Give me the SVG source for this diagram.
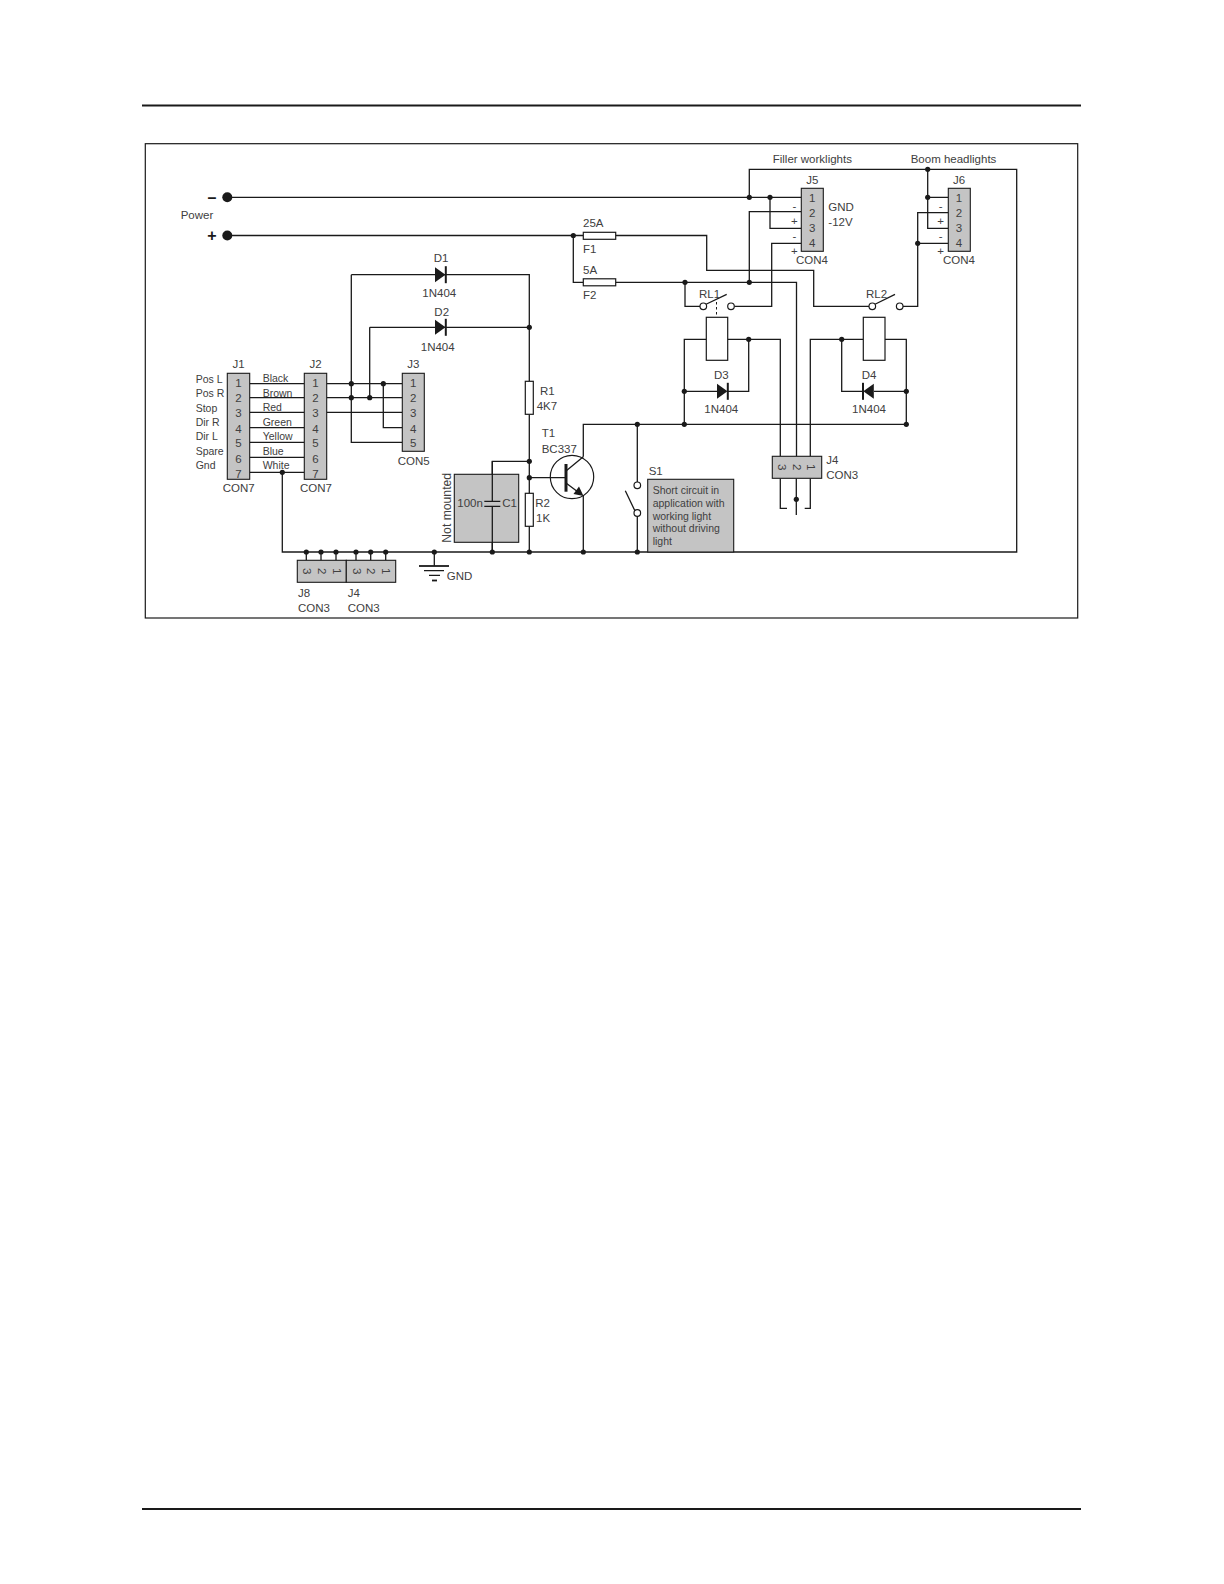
<svg xmlns="http://www.w3.org/2000/svg" width="1224" height="1584" viewBox="0 0 1224 1584">
<style>
text{font-family:"Liberation Sans",Arial,sans-serif;font-size:11.5px;fill:#404040}
.m{text-anchor:middle}
.s{font-size:10.5px}
.b{font-weight:bold;font-size:16px;fill:#1a1a1a}
.w{fill:none;stroke:#1a1a1a;stroke-width:1.3}
.g{fill:#c4c4c4;stroke:#1a1a1a;stroke-width:1.1}
.o{fill:#fff;stroke:#1a1a1a;stroke-width:1.2}
.d{fill:#1a1a1a}
</style>
<defs>
<circle id="j" r="2.6" class="d"/>
<g id="diode"><path d="M-5.5 -7.5L5 0L-5.5 7.5Z" class="d"/><path d="M5.3 -8.5V8.5" fill="none" stroke="#1a1a1a" stroke-width="2"/></g>
</defs>
<rect width="1224" height="1584" fill="#fff"/>
<path d="M142 105.500H1081M142 1509H1081" stroke="#1a1a1a" stroke-width="1.800" fill="none"/>
<rect x="145.300" y="143.700" width="932.400" height="474.300" fill="none" stroke="#1a1a1a" stroke-width="1.200"/>
<g id="connectors">
<path class="w" d="M227 197.300H801.300M749.300 197.300V169.300H1016.700V552H282.300V472.300"/>
<path class="w" d="M770 197.300V228.300H801.300M801.300 211.700H749.300V282.300M801.300 243.300H771.700V306.300H734.500"/>
<path class="w" d="M227 235.500H583.300M615.700 235.500H706.700V270.300H813.700V306.300H869M903 306.300H917.700V212.700H948.300M917.700 243.300H948.300M927.700 169.300V228.300H948.300M927.700 197.300H948.300"/>
<path class="w" d="M573.300 235.500V282.300H583.300M615.700 282.300H796.500V456.300M685 282.300V306.300H700"/>
<path class="w" d="M706.300 339.300H684.300V424.300M727.700 339.300H780.300V456.300M748.700 339.300V391.300H728M684.300 391.300H717"/>
<path class="w" d="M863.300 339.300H841.700V391.300H863M885 339.300H906.300V424.300M906.300 391.300H874M810.300 456.300V339.300H841.700"/>
<path class="w" d="M583.300 456.700V424.300H906.300M583.300 495V552"/>
<path class="w" d="M780.300 478.300V508.300H787M810.300 478.300V508.300H804.700M796.300 478.300V515"/>
<path class="w" d="M249.700 383.700H304.300M249.700 397.700H304.300M249.700 412.300H304.300M249.700 427.700H304.300M249.700 442.300H304.300M249.700 457.300H304.300M249.700 472.300H304.300"/>
<path class="w" d="M326.700 383.700H402.300M326.700 397.700H402.300M326.700 412.300H402.300M383.300 383.700V427.700H402.300M351.300 274.700V442.300H402.300M369.700 327.300V397.700"/>
<path class="w" d="M351.300 274.700H529.300V381.300M369.700 327.300H529.300M529.300 414.300V493.300M529.300 526.300V552M529.300 461.300H492.300V501.300M492.300 506.300V552M529.300 477.700H566"/>
<path class="w" d="M637.300 424.300V482M637.300 516.300V552M625.300 490.700L635 511"/>
<path class="w" d="M306.300 552V560.300M321 552V560.300M336 552V560.300M356 552V560.300M370.700 552V560.300M385.700 552V560.300M434.300 552V566"/>
<path class="w" d="M705.500 304.500L726.700 294.300M874.500 304.500L895 294.300"/>
<path d="M716.500 302V317" fill="none" stroke="#1a1a1a" stroke-width="1" stroke-dasharray="2.500 2.500"/>
<g id="junctions">
<use href="#j" x="749.300" y="197.300"/><use href="#j" x="770" y="197.300"/><use href="#j" x="573.300" y="235.500"/><use href="#j" x="685" y="282.300"/><use href="#j" x="749.300" y="282.300"/>
<use href="#j" x="927.700" y="169.300"/><use href="#j" x="927.700" y="197.300"/><use href="#j" x="917.700" y="243.300"/>
<use href="#j" x="748.700" y="339.300"/><use href="#j" x="684.300" y="391.300"/><use href="#j" x="684.300" y="424.300"/><use href="#j" x="841.700" y="339.300"/><use href="#j" x="906.300" y="391.300"/><use href="#j" x="906.300" y="424.300"/><use href="#j" x="637.300" y="424.300"/><use href="#j" x="796.300" y="499.300"/>
<use href="#j" x="351.300" y="383.700"/><use href="#j" x="351.300" y="397.700"/><use href="#j" x="369.700" y="397.700"/><use href="#j" x="383.300" y="383.700"/><use href="#j" x="282.300" y="472.300"/>
<use href="#j" x="529.300" y="327.300"/><use href="#j" x="529.300" y="461.300"/><use href="#j" x="529.300" y="477.700"/>
<use href="#j" x="306.300" y="552"/><use href="#j" x="321" y="552"/><use href="#j" x="336" y="552"/><use href="#j" x="356" y="552"/><use href="#j" x="370.700" y="552"/><use href="#j" x="385.700" y="552"/><use href="#j" x="434.300" y="552"/><use href="#j" x="492.300" y="552"/><use href="#j" x="529.300" y="552"/><use href="#j" x="583.300" y="552"/><use href="#j" x="637.300" y="552"/>
</g>
</g>
<g id="power">
<circle cx="227.300" cy="197.300" r="5" class="d"/><circle cx="227.300" cy="235.500" r="5" class="d"/>
<text class="b m" x="212" y="202.500">–</text><text class="b m" x="212" y="241">+</text>
<text x="180.700" y="218.700">Power</text>
</g>
<g id="J1">
<rect class="g" x="227.300" y="373.300" width="22.400" height="106"/>
<text class="m" x="238.500" y="368">J1</text>
<text class="m" x="238.500" y="387.300">1</text><text class="m" x="238.500" y="402.300">2</text><text class="m" x="238.500" y="417.300">3</text><text class="m" x="238.500" y="432.700">4</text><text class="m" x="238.500" y="447.300">5</text><text class="m" x="238.500" y="462.700">6</text><text class="m" x="238.500" y="477.700">7</text>
<text x="222.700" y="491.700">CON7</text>
<text class="s" x="195.700" y="382.700">Pos L</text><text class="s" x="195.700" y="397">Pos R</text><text class="s" x="195.700" y="411.700">Stop</text><text class="s" x="195.700" y="426">Dir R</text><text class="s" x="195.700" y="440.300">Dir L</text><text class="s" x="195.700" y="455">Spare</text><text class="s" x="195.700" y="469">Gnd</text>
</g>
<g id="wire-colours">
<text class="s" x="262.700" y="382.300">Black</text><text class="s" x="262.700" y="396.700">Brown</text><text class="s" x="262.700" y="411.300">Red</text><text class="s" x="262.700" y="425.700">Green</text><text class="s" x="262.700" y="440">Yellow</text><text class="s" x="262.700" y="454.700">Blue</text><text class="s" x="262.700" y="469">White</text>
</g>
<g id="J2">
<rect class="g" x="304.300" y="373.300" width="22.400" height="106"/>
<text class="m" x="315.500" y="368">J2</text>
<text class="m" x="315.500" y="387.300">1</text><text class="m" x="315.500" y="402.300">2</text><text class="m" x="315.500" y="417.300">3</text><text class="m" x="315.500" y="432.700">4</text><text class="m" x="315.500" y="447.300">5</text><text class="m" x="315.500" y="462.700">6</text><text class="m" x="315.500" y="477.700">7</text>
<text x="300" y="491.700">CON7</text>
</g>
<g id="J3">
<rect class="g" x="402.300" y="373.300" width="22" height="78"/>
<text class="m" x="413.300" y="368">J3</text>
<text class="m" x="413.300" y="387.300">1</text><text class="m" x="413.300" y="402.300">2</text><text class="m" x="413.300" y="417.300">3</text><text class="m" x="413.300" y="432.700">4</text><text class="m" x="413.300" y="447.300">5</text>
<text x="397.700" y="465.300">CON5</text>
</g>
<g id="D1"><use href="#diode" x="440.500" y="274.700"/><text class="m" x="441" y="261.700">D1</text><text class="m" x="439.300" y="296.700">1N404</text></g>
<g id="D2"><use href="#diode" x="440.500" y="327.300"/><text class="m" x="441.700" y="315.700">D2</text><text class="m" x="437.700" y="350.700">1N404</text></g>
<g id="R1"><rect x="525.300" y="381.300" width="8" height="33" class="o"/><text x="540" y="395">R1</text><text x="536.700" y="410">4K7</text></g>
<g id="C1">
<rect class="g" x="454.300" y="474.300" width="64.400" height="68"/>
<path class="w" d="M492.300 461.300V501.300M492.300 506.300V552M484.300 501.300H500.300M484.300 506.300H500.300"/>
<text x="457.300" y="507.300">100n</text><text x="502.300" y="507.300">C1</text>
<text style="font-size:12.200px" transform="translate(451.300 542.700) rotate(-90)">Not mounted</text>
</g>
<g id="R2"><rect x="525.300" y="493.300" width="8" height="33" class="o"/><text x="535.300" y="507.300">R2</text><text x="536" y="522.300">1K</text></g>
<g id="T1">
<circle cx="572" cy="477" r="21.700" fill="none" stroke="#1a1a1a" stroke-width="1.200"/>
<path d="M566 464V491.700" stroke="#1a1a1a" stroke-width="3" fill="none"/>
<path class="w" d="M566 471L583.300 456.700M566 483L578 492"/>
<path class="d" d="M583.500 496L573.500 494L579 486.500Z"/>
<text x="541.700" y="437.300">T1</text><text x="541.700" y="452.700">BC337</text>
</g>
<g id="S1">
<circle class="o" cx="637.300" cy="485.300" r="3.300"/><circle class="o" cx="637.300" cy="513" r="3.300"/>
<text x="648.700" y="474.700">S1</text>
<rect class="g" x="647.700" y="479.300" width="86" height="72.700"/>
<text class="s" x="652.700" y="494">Short circuit in</text><text class="s" x="652.700" y="506.700">application with</text><text class="s" x="652.700" y="519.500">working light</text><text class="s" x="652.700" y="532">without driving</text><text class="s" x="652.700" y="544.500">light</text>
</g>
<g id="J8-J4">
<rect class="g" x="297.300" y="560.300" width="49" height="22"/><rect class="g" x="346.300" y="560.300" width="49.400" height="22"/>
<text class="m" transform="translate(302.500 571.300) rotate(90)">3</text><text class="m" transform="translate(317.500 571.300) rotate(90)">2</text><text class="m" transform="translate(332.500 571.300) rotate(90)">1</text>
<text class="m" transform="translate(352.500 571.300) rotate(90)">3</text><text class="m" transform="translate(367 571.300) rotate(90)">2</text><text class="m" transform="translate(382 571.300) rotate(90)">1</text>
<text x="298" y="596.700">J8</text><text x="298" y="611.700">CON3</text><text x="347.700" y="596.700">J4</text><text x="347.700" y="611.700">CON3</text>
</g>
<g id="GND">
<path d="M419 566H449" stroke="#1a1a1a" stroke-width="1.800" fill="none"/><path d="M424 570.700H444M429 575.300H440" stroke="#1a1a1a" stroke-width="1.200" fill="none"/><path d="M432 580.500H437" stroke="#1a1a1a" stroke-width="1.800" fill="none"/>
<text x="446.700" y="580">GND</text>
</g>
<g id="F1"><rect class="o" x="583.300" y="232.300" width="32.400" height="7"/><text x="583" y="227.300">25A</text><text x="583" y="252.700">F1</text></g>
<g id="F2"><rect class="o" x="583.300" y="278.800" width="32.400" height="7"/><text x="583" y="273.700">5A</text><text x="583" y="299">F2</text></g>
<g id="J5">
<rect class="g" x="801.300" y="188.300" width="22" height="63"/>
<text class="m" x="812.300" y="184">J5</text>
<text class="m" x="812.300" y="201.700">1</text><text class="m" x="812.300" y="217.300">2</text><text class="m" x="812.300" y="232.300">3</text><text class="m" x="812.300" y="247.300">4</text>
<text class="m" x="794.300" y="210">-</text><text class="m" x="794.300" y="225.300">+</text><text class="m" x="794.300" y="240">-</text><text class="m" x="794.300" y="255.300">+</text>
<text x="828.300" y="211">GND</text><text x="828.300" y="226">-12V</text><text x="796" y="264.300">CON4</text>
<text x="772.700" y="163.300">Filler worklights</text>
</g>
<g id="J6">
<rect class="g" x="948.300" y="188.300" width="22" height="63"/>
<text class="m" x="959" y="184">J6</text>
<text class="m" x="959" y="201.700">1</text><text class="m" x="959" y="217.300">2</text><text class="m" x="959" y="232.300">3</text><text class="m" x="959" y="247.300">4</text>
<text class="m" x="940.700" y="210">-</text><text class="m" x="940.700" y="225.300">+</text><text class="m" x="940.700" y="240">-</text><text class="m" x="940.700" y="255.300">+</text>
<text x="943" y="264.300">CON4</text>
<text x="910.700" y="163.300">Boom headlights</text>
</g>
<g id="RL1">
<circle class="o" cx="703.300" cy="306.300" r="3.300"/><circle class="o" cx="731" cy="306.300" r="3.300"/>
<rect class="o" x="706.300" y="317.300" width="21.400" height="43"/>
<text x="699" y="297.700">RL1</text>
</g>
<g id="RL2">
<circle class="o" cx="872.300" cy="306.300" r="3.300"/><circle class="o" cx="899.700" cy="306.300" r="3.300"/>
<rect class="o" x="863.300" y="317.300" width="21.700" height="43"/>
<text x="866" y="297.700">RL2</text>
</g>
<g id="D3"><use href="#diode" x="722.500" y="391.300"/><text class="m" x="721.300" y="379">D3</text><text class="m" x="721.300" y="412.700">1N404</text></g>
<g id="D4"><use href="#diode" transform="translate(868.300 391.300) scale(-1 1)"/><text class="m" x="869" y="379">D4</text><text class="m" x="869" y="412.700">1N404</text></g>
<g id="J4">
<rect class="g" x="772.300" y="456.300" width="49.400" height="22"/>
<text class="m" transform="translate(777.500 467.300) rotate(90)">3</text><text class="m" transform="translate(792.500 467.300) rotate(90)">2</text><text class="m" transform="translate(807 467.300) rotate(90)">1</text>
<text x="826.300" y="464.300">J4</text><text x="826.300" y="479.300">CON3</text>
</g>
</svg>
